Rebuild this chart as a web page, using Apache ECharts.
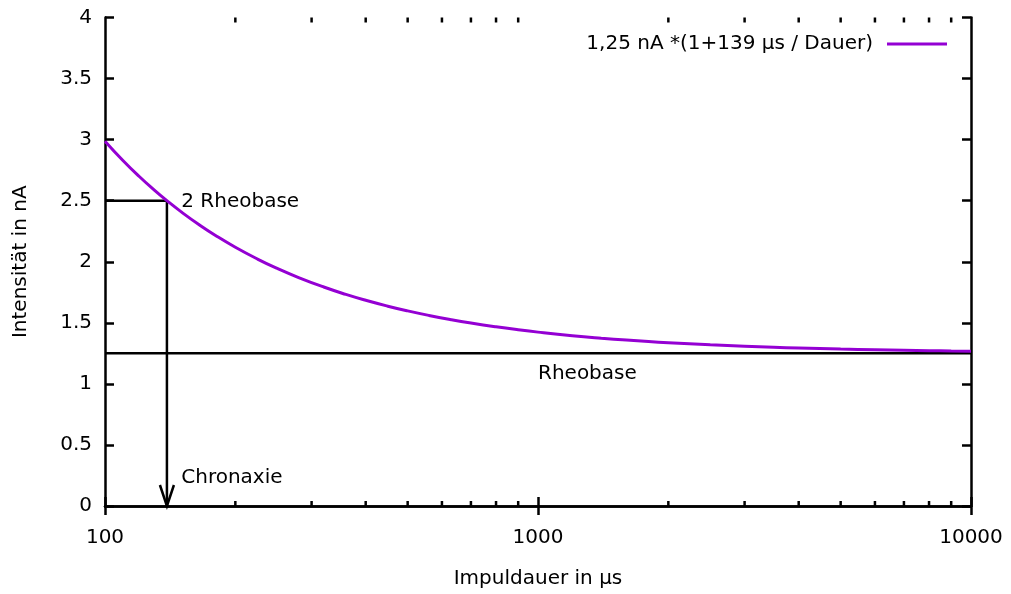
<!DOCTYPE html>
<html>
<head>
<meta charset="utf-8">
<script src="https://cdn.jsdelivr.net/npm/echarts@6/dist/echarts.min.js"></script>
<style>
html, body { margin: 0; padding: 0; background: #fff; }
#chart { width: 1011px; height: 594px; }
</style>
</head>
<body>
<div id="chart"></div>
<script>
// Strength–duration curve: I = 1,25 nA * (1 + 139 µs / Dauer)
const durations = [100, 110, 120, 130, 139, 150, 165, 180, 200, 225, 250, 280, 320, 360, 400, 450, 500, 560, 630, 700, 800, 900,
  1000, 1200, 1400, 1600, 1800, 2000, 2500, 3000, 3500, 4000, 5000, 6000, 7000, 8000, 9000, 10000];
const intensity = [2.9875, 2.8295, 2.6979, 2.5865, 2.5, 2.4083, 2.303, 2.2153, 2.1188, 2.0222, 1.945, 1.8705, 1.793, 1.7326, 1.6844, 1.6361, 1.5975, 1.5603, 1.5258, 1.4982, 1.4672, 1.443,
  1.4238, 1.3948, 1.3741, 1.3586, 1.3465, 1.3369, 1.3195, 1.3079, 1.2996, 1.2934, 1.2848, 1.279, 1.2748, 1.2717, 1.2693, 1.2674];

const seriesName = '1,25 nA *(1+139 μs / Dauer)';
const rheobase = 1.25;
const doubleRheobase = 2.5;
const chronaxie = 139;

// Axis ranges and tick positions
const xMin = 100, xMax = 10000;
const yMin = 0, yMax = 4, yStep = 0.5;
const xMinorTicks = [200, 300, 400, 500, 600, 700, 800, 900, 2000, 3000, 4000, 5000, 6000, 7000, 8000, 9000];

// Annotation texts with their anchor points (data units)
const annotations = [
  { text: '2 Rheobase', x: 150, y: 2.49 },
  { text: 'Rheobase', x: 1000, y: 1.085 },
  { text: 'Chronaxie', x: 150, y: 0.235 }
];

const FONT = '"DejaVu Sans", sans-serif';
const FS = 20;
const INK = '#000';
const PURPLE = '#9400d3';
const LW = 2.5;

const chart = echarts.init(document.getElementById('chart'), null, { renderer: 'canvas' });

const axisLine = { show: true, lineStyle: { color: INK, width: LW } };
const majorTick = { show: true, inside: true, length: 9, lineStyle: { color: INK, width: LW } };

chart.setOption({
  animation: false,
  backgroundColor: '#fff',
  textStyle: { fontFamily: FONT, color: INK },
  grid: { left: 105, right: 40, top: 17.5, bottom: 88, containLabel: false },
  legend: {
    right: 64, top: 34, padding: 0,
    align: 'right',
    icon: 'rect',
    itemWidth: 60, itemHeight: 3,
    textStyle: { fontFamily: FONT, fontSize: FS, color: INK, padding: [0, 9, 0, 0] },
    data: [seriesName]
  },
  xAxis: [
    {
      type: 'log', logBase: 10, min: xMin, max: xMax,
      name: 'Impuldauer in μs', nameLocation: 'middle', nameGap: 63,
      nameTextStyle: { fontFamily: FONT, fontSize: FS, color: INK },
      axisLine, axisTick: majorTick,
      axisLabel: { fontFamily: FONT, fontSize: FS, color: INK, margin: 22,
        formatter: v => String(Math.round(v)) },
      splitLine: { show: false }
    },
    {
      type: 'log', logBase: 10, min: xMin, max: xMax, position: 'top',
      axisLine, axisTick: majorTick, axisLabel: { show: false }, splitLine: { show: false }
    }
  ],
  yAxis: [
    {
      type: 'value', min: yMin, max: yMax, interval: yStep,
      name: 'Intensität in nA', nameLocation: 'middle', nameGap: 74,
      nameTextStyle: { fontFamily: FONT, fontSize: FS, color: INK },
      axisLine, axisTick: majorTick,
      axisLabel: { fontFamily: FONT, fontSize: FS, color: INK, margin: 13, padding: [7, 0, 0, 0] },
      splitLine: { show: false }
    },
    {
      type: 'value', min: yMin, max: yMax, interval: yStep, position: 'right',
      axisLine, axisTick: majorTick, axisLabel: { show: false }, splitLine: { show: false }
    }
  ],
  series: [
    {
      // minor ticks of the logarithmic x axis, bottom and top edges
      type: 'custom',
      silent: true,
      data: xMinorTicks.map(v => [v, yMin]),
      renderItem: (params, api) => {
        const x = api.value(0);
        const b = api.coord([x, yMin]);
        const t = api.coord([x, yMax]);
        const style = { stroke: INK, lineWidth: LW };
        return {
          type: 'group',
          children: [
            { type: 'line', shape: { x1: b[0], y1: b[1], x2: b[0], y2: b[1] - 5 }, style },
            { type: 'line', shape: { x1: t[0], y1: t[1], x2: t[0], y2: t[1] + 5 }, style }
          ]
        };
      },
      z: 3
    },
    {
      // rheobase, doubled rheobase and chronaxie construction lines with labels
      type: 'custom',
      silent: true,
      data: [[chronaxie, doubleRheobase]],
      renderItem: (params, api) => {
        const style = { stroke: INK, lineWidth: LW, fill: null };
        const pLeft2 = api.coord([xMin, doubleRheobase]);
        const pChr2 = api.coord([chronaxie, doubleRheobase]);
        const pChr0 = api.coord([chronaxie, yMin]);
        const pLeft1 = api.coord([xMin, rheobase]);
        const pRight1 = api.coord([xMax, rheobase]);
        const children = [
          { type: 'line', shape: { x1: pLeft2[0], y1: pLeft2[1], x2: pChr2[0], y2: pChr2[1] }, style },
          { type: 'line', shape: { x1: pChr2[0], y1: pChr2[1], x2: pChr0[0], y2: pChr0[1] }, style },
          { type: 'polyline', shape: { points: [[pChr0[0] - 7, pChr0[1] - 21], [pChr0[0], pChr0[1]], [pChr0[0] + 7, pChr0[1] - 21]] }, style },
          { type: 'line', shape: { x1: pLeft1[0], y1: pLeft1[1], x2: pRight1[0], y2: pRight1[1] }, style }
        ];
        annotations.forEach(a => {
          const p = api.coord([a.x, a.y]);
          children.push({
            type: 'text',
            style: { text: a.text, x: p[0], y: p[1], align: 'left', verticalAlign: 'middle',
              font: FS + 'px ' + FONT, fill: INK }
          });
        });
        return { type: 'group', children };
      },
      z: 2
    },
    {
      name: seriesName,
      type: 'line',
      data: durations.map((d, i) => [d, intensity[i]]),
      smooth: true,
      showSymbol: false,
      symbol: 'none',
      lineStyle: { color: PURPLE, width: 3 },
      itemStyle: { color: PURPLE },
      z: 4
    }
  ]
});
</script>
</body>
</html>
